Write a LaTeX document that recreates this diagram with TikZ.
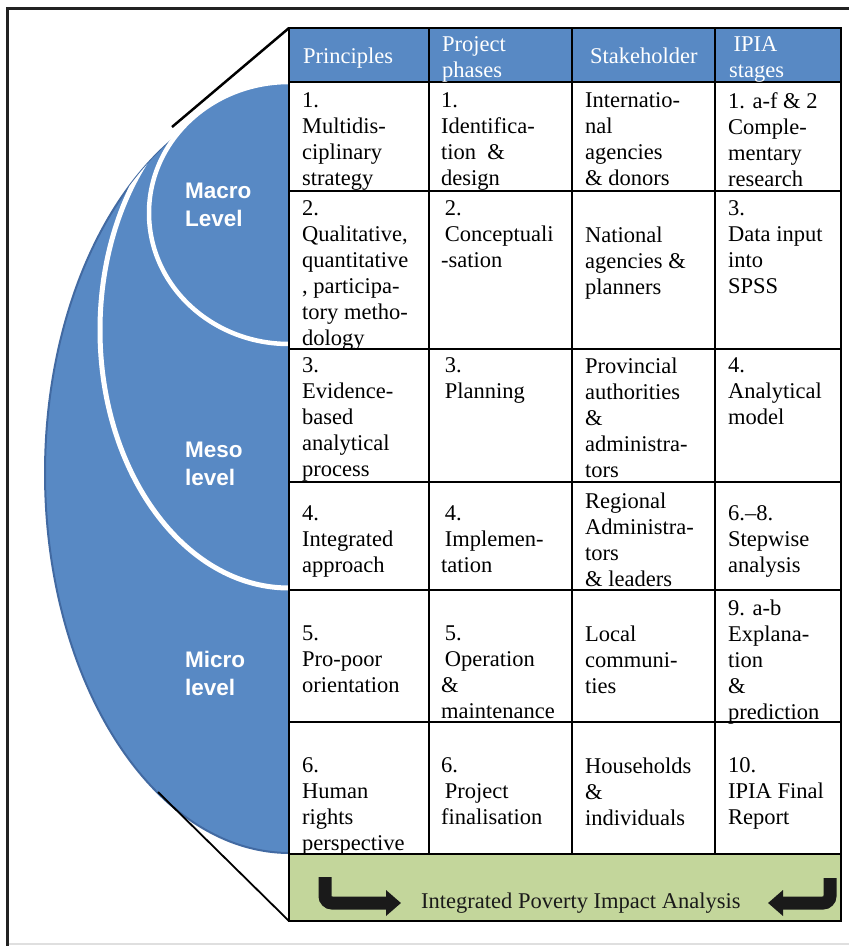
\documentclass[tikz,border=0pt]{standalone}
\usepackage{fontspec}
\setmainfont{Liberation Serif}
\newfontfamily\levelfamily{Liberation Sans}
\usetikzlibrary{arrows.meta}

\definecolor{ipiablue}{RGB}{88,137,196}
\definecolor{ipiaedge}{RGB}{66,106,162}
\definecolor{ipiagreen}{RGB}{195,214,155}
\definecolor{ipiaframe}{RGB}{34,34,34}
\definecolor{ipiaink}{RGB}{26,26,26}

\newcommand\cellfont{\fontsize{22.5}{26}\selectfont}
\newcommand\levelfont{\levelfamily\bfseries\fontsize{22.5}{28}\selectfont}

\begin{document}
\begin{tikzpicture}[x=1pt,y=-1pt,
  oneline/.style={anchor=north west, inner sep=0pt, align=left, font=\cellfont,
               execute at begin node=\strut},
  cell/.style={oneline, yshift=-5.5pt},
  headcell/.style={cell, text=white},
  headone/.style={oneline, text=white},
  levellabel/.style={anchor=north west, inner sep=0pt, align=left, yshift=-4pt,
               font=\levelfont, text=white, execute at begin node=\strut},
  gridrule/.style={line width=2.4pt, draw=black},
  bentarrow/.style={line width=13pt, draw=ipiaink, rounded corners=7pt,
               -{Triangle[length=15pt,width=25pt]}},
]
\useasboundingbox (0,0) rectangle (849,946);

% page frame
\fill[white] (0,0) rectangle (849,946);
\draw[gray!25, line width=1.5pt] (7,944) -- (852,944);
\draw[ipiaframe, line width=3pt] (7,948) -- (7,8) -- (852,8);

% nested levels, cut off by the table edge
\begin{scope}
  \clip (0,0) rectangle (289,946);
  \fill[ipiablue] (290,473) ellipse [x radius=245pt, y radius=380pt];
  \draw[ipiaedge, line width=2pt] (290,473) ellipse [x radius=245pt, y radius=380pt];
  \begin{scope}
    \clip (290,473) ellipse [x radius=245pt, y radius=380pt];
    \filldraw[fill=ipiablue, draw=white, line width=5pt]
      (289,330) ellipse [x radius=189pt, y radius=258pt];
  \end{scope}
  \filldraw[fill=ipiablue, draw=white, line width=4.5pt]
    (289,213) ellipse [x radius=140pt, y radius=131pt];
\end{scope}

\node[levellabel] (macro) at (185,178.4) {Macro\\Level};
\node[levellabel] (meso)  at (185,437.4) {Meso\\level};
\node[levellabel] (micro) at (185,647.4) {Micro\\level};

% table body
\coordinate (tabNW) at (289,28);
\coordinate (tabSW) at (289,921);
\fill[ipiablue]  (289,28)  rectangle (841,82);
\fill[white]     (289,82)  rectangle (841,854);
\fill[ipiagreen] (289,854) rectangle (841,921);
\draw[gridrule] (289,28) rectangle (841,921);
\foreach \y in {82,191,349,482,590,722,854}
  \draw[gridrule] (289,\y) -- (841,\y);
\foreach \x in {429,572,715}
  \draw[gridrule] (\x,28) -- (\x,854);

% zoom lines from the levels to the table
\coordinate (topjoin) at (172,127);
\coordinate (botjoin) at (158,792);
\draw[black, line width=2.5pt] (tabNW) -- (topjoin);
\draw[black, line width=1.8pt] (tabSW) -- (botjoin);

% header
\node[headone]  (h1) at (303,44.8) {Principles};
\node[headcell] (h2) at (442,30.8) {Project\\phases};
\node[headone]  (h3) at (590,44.8) {Stakeholder};
\node[headcell] (h4) at (729,30.8) {\hspace{4.5pt}IPIA\\stages};

% row 1
\node[cell] (r1c1) at (302,86.8) {1.\\Multidis-\\ciplinary\\strategy};
\node[cell] (r1c2) at (441,86.8) {1.\\Identifica-\\tion \ \&\\design};
\node[cell] (r1c3) at (585,86.8) {Internatio-\\nal\\agencies\\\& donors};
\node[cell] (r1c4) at (728,86.8) {1. a-f \& 2\\Comple-\\mentary\\research};

% row 2
\node[cell] (r2c1) at (302,194.8) {2.\\Qualitative,\\quantitative\\, participa-\\tory metho-\\dology};
\node[cell] (r2c2) at (441,194.8) {\hspace{3.6pt}2.\\\hspace{3.6pt}Conceptuali\\-sation};
\node[cell] (r2c3) at (585,220.8) {National\\agencies \&\\planners};
\node[cell] (r2c4) at (728,194.8) {3.\\Data input\\into\\SPSS};

% row 3
\node[cell] (r3c1) at (302,351.8) {3.\\Evidence-\\based\\analytical\\process};
\node[cell] (r3c2) at (441,351.8) {\hspace{3.6pt}3.\\\hspace{3.6pt}Planning};
\node[cell] (r3c3) at (585,351.8) {Provincial\\authorities\\\&\\administra-\\tors};
\node[cell] (r3c4) at (728,351.8) {4.\\Analytical\\model};

% row 4
\node[cell] (r4c1) at (302,499.8) {4.\\Integrated\\approach};
\node[cell] (r4c2) at (441,499.8) {\hspace{3.6pt}4.\\\hspace{3.6pt}Implemen-\\tation};
\node[cell] (r4c3) at (585,486.8) {Regional\\Administra-\\tors\\\& leaders};
\node[cell] (r4c4) at (728,499.8) {6.–8.\\Stepwise\\analysis};

% row 5
\node[cell] (r5c1) at (302,619.8) {5.\\Pro-poor\\orientation};
\node[cell] (r5c2) at (441,619.8) {\hspace{3.6pt}5.\\\hspace{3.6pt}Operation\\\&\\maintenance};
\node[cell] (r5c3) at (585,619.8) {Local\\communi-\\ties};
\node[cell] (r5c4) at (728,593.8) {9. a-b\\Explana-\\tion\\\&\\prediction};

% row 6
\node[cell] (r6c1) at (302,751.8) {6.\\Human\\rights\\perspective};
\node[cell] (r6c2) at (441,751.8) {6.\\\hspace{3.6pt}Project\\finalisation};
\node[cell] (r6c3) at (585,751.8) {Households\\\&\\individuals};
\node[cell] (r6c4) at (728,751.8) {10.\\IPIA Final\\Report};

% closing band
\node[anchor=base west, inner sep=0pt, font=\cellfont, text=ipiaink] (ipia) at (421,908)
  {Integrated Poverty Impact Analysis};
\coordinate (la0) at (325,877);
\coordinate (la1) at (325,903);
\coordinate (la2) at (401,903);
\draw[bentarrow] (la0) -- (la1) -- (la2);
\coordinate (ra0) at (830,878);
\coordinate (ra1) at (830,903);
\coordinate (ra2) at (768,903);
\draw[bentarrow] (ra0) -- (ra1) -- (ra2);
\end{tikzpicture}
\end{document}
